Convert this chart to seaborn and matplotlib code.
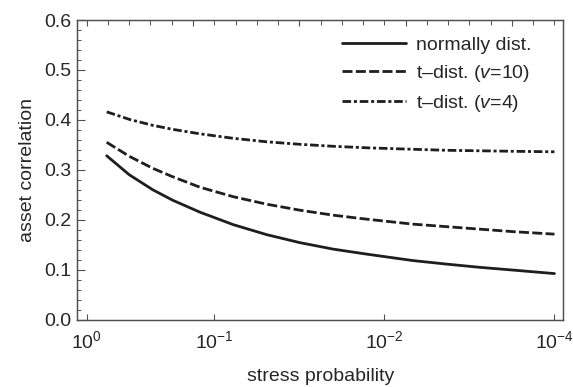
import numpy as np
import pandas as pd
import matplotlib
matplotlib.use("Agg")
import matplotlib.pyplot as plt
import seaborn as sns

# ---- data ----
stress_prob = [0.697, 0.464, 0.304, 0.212, 0.1295, 0.0773, 0.0492, 0.0314,
               0.0200, 0.01272, 0.00458, 0.00186, 7.54e-4, 3.06e-4, 1.0e-4]
normal_corr = [0.328, 0.290, 0.260, 0.239, 0.215, 0.190, 0.170, 0.154,
               0.141, 0.131, 0.118, 0.111, 0.1045, 0.099, 0.092]
t10_corr = [0.355, 0.327, 0.303, 0.286, 0.265, 0.246, 0.231, 0.219,
            0.209, 0.201, 0.191, 0.186, 0.181, 0.176, 0.171]
t4_corr = [0.416, 0.401, 0.389, 0.381, 0.372, 0.363, 0.356, 0.351,
           0.347, 0.344, 0.341, 0.339, 0.338, 0.337, 0.336]
series_labels = ["normally dist.", r"t–dist. ($\mathit{v}$=10)", r"t–dist. ($\mathit{v}$=4)"]
xtick_values = [1.0, 1e-1, 1e-2, 1e-4]
xtick_labels = [r"$10^{0}$", r"$10^{-1}$", r"$10^{-2}$", r"$10^{-4}$"]

df = pd.concat([
    pd.DataFrame({"p": stress_prob, "corr": vals, "series": lab})
    for vals, lab in zip([normal_corr, t10_corr, t4_corr], series_labels)
])

# ---- axis scale: positions of the labelled decades on the reference axis ----
_L = np.array([-4.0, -2.0, -1.0, 0.0])
_U = np.array([22.0, 14.0, 6.0, 0.0])

def p_to_u(p):
    L = np.log10(np.clip(np.asarray(p, float), 1e-300, None))
    u = np.interp(L, _L, _U)
    u = np.where(L > 0, -6.0 * L, u)
    u = np.where(L < -4, 22.0 + 4.0 * (-4.0 - L), u)
    return u

def u_to_p(u):
    u = np.asarray(u, float)
    L = np.interp(u, _U[::-1], _L[::-1])
    L = np.where(u < 0, -u / 6.0, L)
    L = np.where(u > 22, -4.0 - (u - 22.0) / 4.0, L)
    return 10.0 ** L

sns.set_theme(style="ticks")
plt.rcParams["font.family"] = ["Liberation Sans", "DejaVu Sans"]
plt.rcParams["mathtext.fontset"] = "custom"
plt.rcParams["mathtext.rm"] = "Liberation Sans"
plt.rcParams["mathtext.it"] = "Liberation Sans:italic"
plt.rcParams["mathtext.default"] = "regular"

FS = 14
INK = "#1e1e1e"
FRAME = "#505050"

fig = plt.figure(figsize=(5.73, 3.87), dpi=100)
ax = fig.add_axes([0.135, 0.1744, 0.8475, 0.7739])

ax.set_xscale("function", functions=(p_to_u, u_to_p))

sns.lineplot(data=df, x="p", y="corr", style="series", ax=ax,
             color=INK, linewidth=2.0, estimator=None,
             dashes={series_labels[0]: "",
                     series_labels[1]: (3.6, 1.2),
                     series_labels[2]: (3.1, 1.0, 1.1, 1.0)})

ax.set_xlim(float(u_to_p(22.4)), float(u_to_p(-0.44)))
ax.set_ylim(0.0, 0.6)
ax.set_xticks(xtick_values)
ax.set_xticklabels(xtick_labels)
ax.xaxis.set_minor_locator(matplotlib.ticker.NullLocator())
ax.set_yticks(np.arange(0, 0.61, 0.1))
ax.set_yticklabels([f"{v:.1f}" for v in np.arange(0, 0.61, 0.1)])
ax.yaxis.set_minor_locator(matplotlib.ticker.MultipleLocator(0.02))

ax.tick_params(axis="x", which="major", direction="in", length=4, width=0.8,
               color=FRAME, labelsize=FS, labelcolor="#262626", pad=8,
               top=False)
ax.tick_params(axis="y", which="major", direction="in", length=6, width=0.8,
               color=FRAME, labelsize=FS, labelcolor="#262626", pad=4,
               right=False)
ax.tick_params(axis="y", which="minor", direction="in", length=3, width=0.7,
               color=FRAME, right=False)

for s in ax.spines.values():
    s.set_visible(True)
    s.set_color(FRAME)
    s.set_linewidth(0.9)

ax.set_xlabel("stress probability", fontsize=FS, color="#262626", labelpad=11)
ax.set_ylabel("asset correlation", fontsize=FS, color="#262626", labelpad=6)

# top frame ticks (evenly spaced, unlabeled)
ax2 = ax.twiny()
ax2.set_xlim(-0.44, 22.4)
ax2.set_xticks(np.arange(0, 23, 5))
ax2.xaxis.set_minor_locator(matplotlib.ticker.MultipleLocator(1))
ax2.tick_params(axis="x", which="major", direction="in", length=4.5, width=0.8,
                color=FRAME, labeltop=False, top=True, bottom=False)
ax2.tick_params(axis="x", which="minor", direction="in", length=3.5, width=0.7,
                color=FRAME, top=True, bottom=False)
for s in ax2.spines.values():
    s.set_color(FRAME)
    s.set_linewidth(0.9)

handles, labels = ax.get_legend_handles_labels()
if ax.get_legend() is not None:
    ax.get_legend().remove()
leg = ax.legend(handles, labels, loc="upper left",
                bbox_to_anchor=(0.544, 0.945), frameon=False,
                fontsize=FS, handlelength=3.3, handletextpad=0.55,
                labelspacing=0.45, borderpad=0, borderaxespad=0)
for t in leg.get_texts():
    t.set_color("#262626")

fig.savefig("out.png", dpi=100)
